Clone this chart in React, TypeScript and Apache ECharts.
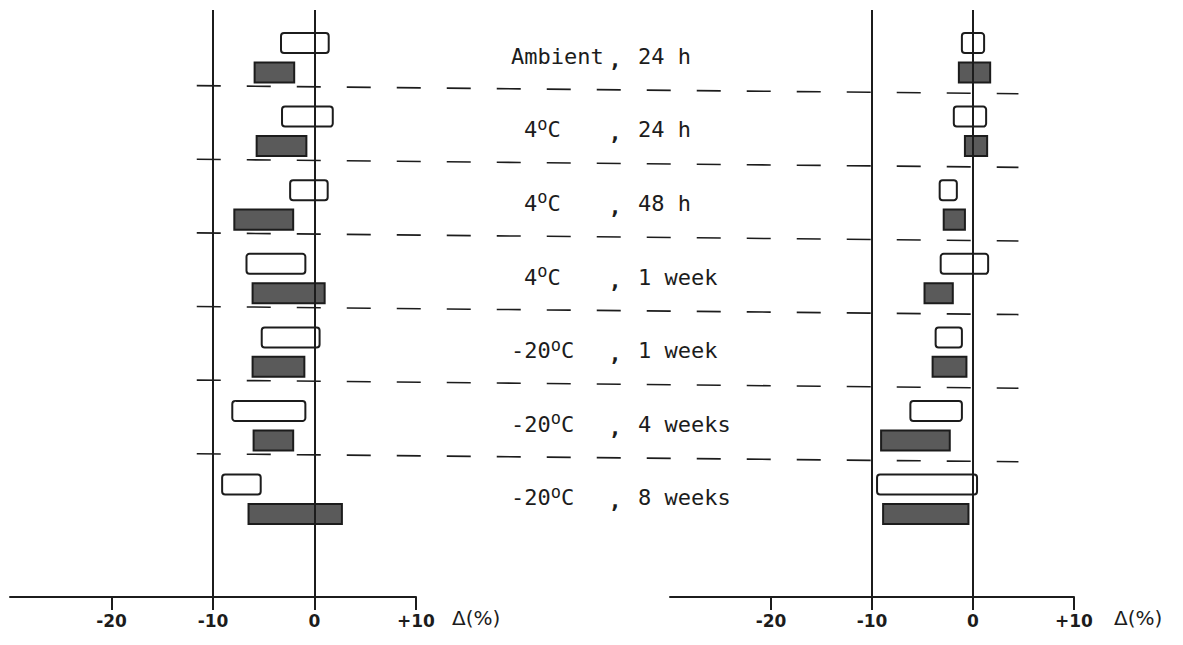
import React, { useEffect, useRef } from "react";
import * as echarts from "echarts";

// ---- data ----
const conditions = ["Ambient", "4oC", "4oC", "4oC", "-20oC", "-20oC", "-20oC"];
const durations = ["24 h", "24 h", "48 h", "1 week", "1 week", "4 weeks", "8 weeks"];
const axisName = "Δ(%)";

// left panel: [low, high] ranges (percent)
const leftOpen = [
  [-3.3, 1.4], [-3.2, 1.8], [-2.4, 1.3], [-6.7, -0.9], [-5.2, 0.5], [-8.1, -0.9], [-9.1, -5.3],
];
const leftFilled = [
  [-5.9, -2.0], [-5.7, -0.8], [-7.9, -2.1], [-6.1, 1.0], [-6.1, -1.0], [-6.0, -2.1], [-6.5, 2.7],
];
// right panel
const rightOpen = [
  [-1.1, 1.1], [-1.9, 1.3], [-3.3, -1.6], [-3.2, 1.5], [-3.7, -1.1], [-6.2, -1.1], [-9.5, 0.4],
];
const rightFilled = [
  [-1.4, 1.7], [-0.8, 1.4], [-2.9, -0.8], [-4.8, -2.0], [-4.0, -0.65], [-9.1, -2.3], [-8.9, -0.45],
];
const referenceLines = [-10, 0];
const xMin = -30;
const xMax = 10;
const xInterval = 10;

// ---- layout / style ----
const INK = "#1c1c1c";
const FILL = "#5a5a5a";
const MONO = "'DejaVu Sans Mono', 'Liberation Mono', monospace";
const FILLED_OFFSET = 0.4;
const BAR_H = 0.272;
const Y_MIN = -0.448;
const Y_MAX = 7.527;

function buildData(open: number[][], filled: number[][]) {
  const out: any[] = [];
  open.forEach((r, i) => out.push([r[0], r[1], i, 0]));
  filled.forEach((r, i) => out.push([r[0], r[1], i + FILLED_OFFSET, 1]));
  return out;
}

function renderItem(params: any, api: any) {
  const lo = api.value(0);
  const hi = api.value(1);
  const v = api.value(2);
  const filled = api.value(3) === 1;
  const p1 = api.coord([lo, v]);
  const p2 = api.coord([hi, v]);
  const h = Math.abs(api.size([0, BAR_H])[1]);
  return {
    type: "rect",
    shape: { x: p1[0], y: p1[1] - h / 2, width: p2[0] - p1[0], height: h, r: filled ? 0 : 3 },
    style: { fill: filled ? FILL : "#ffffff", stroke: INK, lineWidth: 2 },
  };
}

function xAxisOf(gridIndex: number, nameGap: number) {
  return {
    gridIndex,
    type: "value",
    min: xMin,
    max: xMax,
    interval: xInterval,
    axisLine: { show: true, onZero: false, lineStyle: { color: INK, width: 2 } },
    axisTick: { show: true, length: 13, lineStyle: { color: INK, width: 2 } },
    axisLabel: {
      show: true,
      showMinLabel: false,
      margin: 15,
      fontSize: 17,
      fontWeight: "bold",
      color: INK,
      fontFamily: "'DejaVu Sans', sans-serif",
      formatter: (v: number) => (v === 0 ? "0" : v > 0 ? "+" + v : String(v)),
    },
    splitLine: { show: false },
    name: axisName,
    nameLocation: "end",
    nameGap,
    nameTextStyle: {
      color: INK,
      fontSize: 20,
      fontFamily: "'DejaVu Sans', sans-serif",
      verticalAlign: "top",
      padding: [11, 0, 0, 0],
    },
  };
}

function yAxisOf(gridIndex: number) {
  return { gridIndex, type: "value", min: Y_MIN, max: Y_MAX, inverse: true, show: false };
}

export default function App() {
  const ref = useRef<HTMLDivElement>(null);
  useEffect(() => {
    if (!ref.current) return;
    const chart = echarts.init(ref.current, undefined, { renderer: "svg" });
    const option: any = {
      animation: false,
      backgroundColor: "#ffffff",
      grid: [
        { left: 10, top: 10, width: 406, height: 587, containLabel: false },
        { left: 670, top: 10, width: 404, height: 587, containLabel: false },
      ],
      xAxis: [xAxisOf(0, 36), xAxisOf(1, 40)],
      yAxis: [yAxisOf(0), yAxisOf(1)],
      series: [0, 1].map((g) => ({
        type: "line",
        xAxisIndex: g,
        yAxisIndex: g,
        data: [],
        z: 1,
        silent: true,
        markLine: {
          silent: true,
          symbol: ["none", "none"],
          label: { show: false },
          lineStyle: { color: INK, width: 2, type: "solid" },
          data: referenceLines.map((x) => ({ xAxis: x })),
        },
      })).concat([
        {
          type: "custom",
          xAxisIndex: 0,
          yAxisIndex: 0,
          z: 3,
          renderItem,
          encode: { x: [0, 1], y: 2 },
          data: buildData(leftOpen, leftFilled),
        } as any,
        {
          type: "custom",
          xAxisIndex: 1,
          yAxisIndex: 1,
          z: 3,
          renderItem,
          encode: { x: [0, 1], y: 2 },
          data: buildData(rightOpen, rightFilled),
        } as any,
      ]),
    };
    chart.setOption(option);

    // separators and row labels, positioned through the axes
    const graphics: any[] = [];
    for (let r = 0; r < conditions.length - 1; r++) {
      const a = chart.convertToPixel({ gridIndex: 0 } as any, [-11.6, r + 0.58]) as number[];
      const b = chart.convertToPixel({ gridIndex: 1 } as any, [4.5, r + 0.69]) as number[];
      graphics.push({
        type: "line",
        z: 2,
        shape: { x1: a[0], y1: a[1], x2: b[0], y2: b[1] },
        style: { stroke: INK, lineWidth: 1.6, lineDash: [24, 26] },
      });
    }
    conditions.forEach((c, r) => {
      const p = chart.convertToPixel({ gridIndex: 0 } as any, [0, r + 0.18]) as number[];
      const y = p[1];
      const indent = /^\d/.test(c) ? 13 : 0; // typewritten leading space
      graphics.push({
        type: "text",
        x: 511 + indent,
        y,
        style: {
          text: c.replace("oC", "{o|o}C"),
          fontSize: 22,
          fontFamily: MONO,
          fill: INK,
          verticalAlign: "middle",
          align: "left",
          rich: {
            o: {
              fontSize: 17,
              fontFamily: MONO,
              fill: INK,
              verticalAlign: "middle",
              padding: [0, 0, 12, 0],
            },
          },
        },
      });
      graphics.push({
        type: "text",
        x: 615,
        y: y + 3,
        style: {
          text: ",",
          fontSize: 22,
          fontWeight: "bold",
          fontFamily: MONO,
          fill: INK,
          verticalAlign: "middle",
          align: "center",
        },
      });
      graphics.push({
        type: "text",
        x: 638,
        y,
        style: {
          text: durations[r],
          fontSize: 22,
          fontFamily: MONO,
          fill: INK,
          verticalAlign: "middle",
          align: "left",
        },
      });
    });
    chart.setOption({ graphic: graphics });

    return () => chart.dispose();
  }, []);
  return (
    <div
      ref={ref}
      style={{ position: "absolute", left: 0, top: 0, width: 1183, height: 645, background: "#fff" }}
    />
  );
}
